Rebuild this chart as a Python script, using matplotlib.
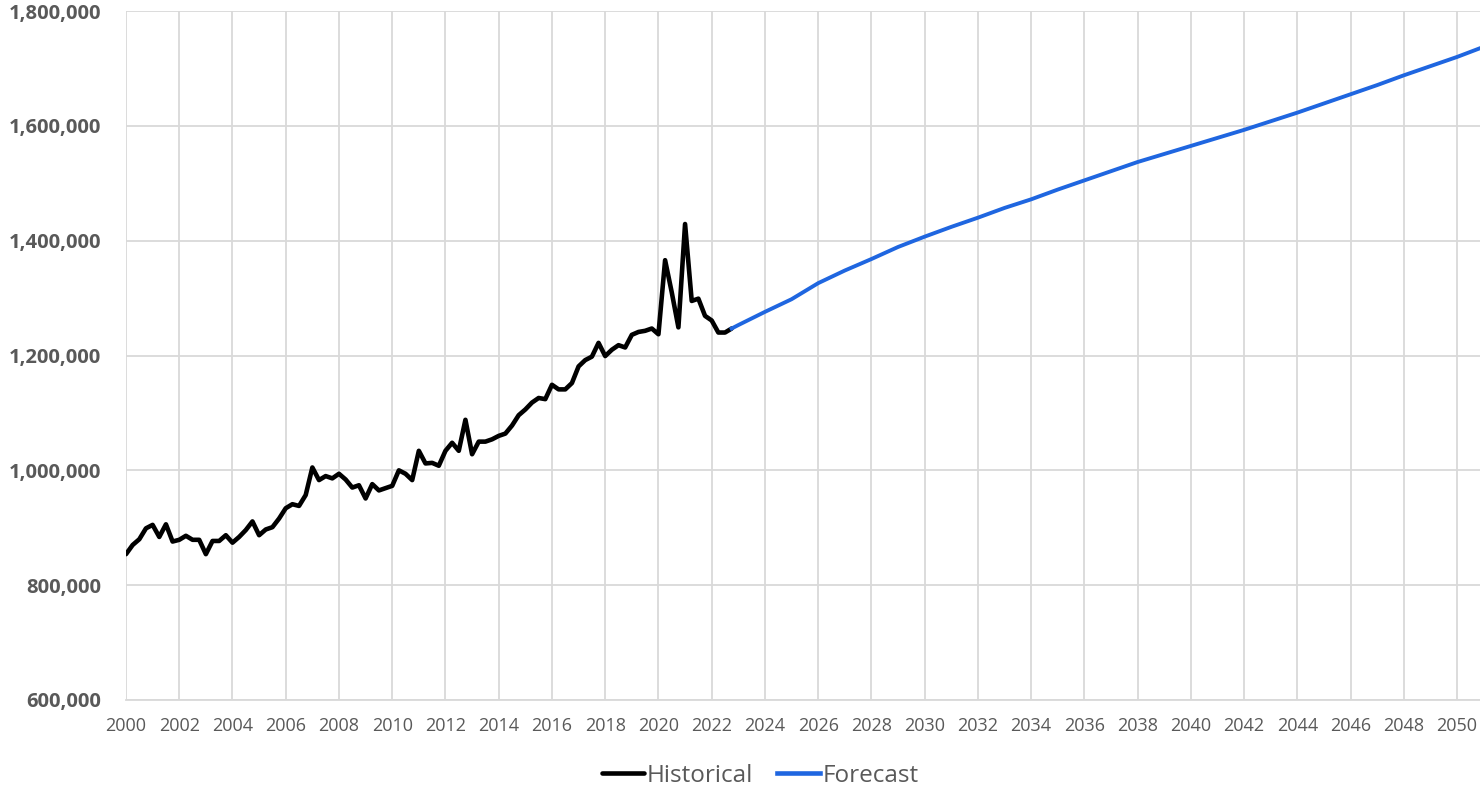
import matplotlib
matplotlib.use("Agg")
import matplotlib.pyplot as plt
import numpy as np
from matplotlib.ticker import FuncFormatter

# ---------------- data ----------------
# Historical: quarterly values, starting 2000 Q1 (in thousands)
hist_start_year = 2000
hist_values_k = [
    854, 870, 880, 899, 905, 884, 906, 876, 879, 886, 879, 879,
    854, 877, 877, 887, 874, 884, 896, 911, 887, 897, 901, 916,
    934, 941, 938, 957, 1005, 983, 990, 986, 994, 984, 970, 974,
    951, 976, 965, 969, 973, 1000, 994, 983, 1034, 1012, 1013, 1008,
    1034, 1048, 1034, 1088, 1028, 1050, 1050, 1054, 1060, 1064, 1078, 1096,
    1106, 1118, 1126, 1124, 1149, 1141, 1141, 1152, 1181, 1192, 1198, 1222,
    1199, 1210, 1218, 1214, 1236, 1241, 1243, 1247, 1237, 1366, 1310, 1249,
    1429, 1295, 1299, 1269, 1261, 1240, 1240, 1247,
]

# Forecast: (year, value in thousands)
forecast_years = [2022.75, 2023, 2024, 2025, 2026, 2027, 2028, 2029, 2030,
                  2031, 2032, 2033, 2034, 2035, 2036, 2037, 2038, 2039, 2040,
                  2041, 2042, 2043, 2044, 2045, 2046, 2047, 2048, 2049, 2050,
                  2050.85]
forecast_values_k = [1247, 1253, 1276, 1298, 1326, 1348, 1368, 1389, 1407,
                     1424, 1440, 1457, 1472, 1489, 1505, 1521, 1537, 1551, 1565,
                     1579, 1593, 1608, 1623, 1639, 1655, 1671, 1688, 1704, 1720,
                     1735]

series_labels = ["Historical", "Forecast"]
x_ticks = list(range(2000, 2051, 2))
y_ticks = [600000, 800000, 1000000, 1200000, 1400000, 1600000, 1800000]

# ---------------- plot ----------------
plt.rcParams['font.family'] = ['Open Sans', 'DejaVu Sans']

fig = plt.figure(figsize=(14.8, 7.9), dpi=100)
ax = fig.add_axes([126/1480, 1 - 700/790, 1 - 126/1480, (700 - 11)/790])

hist_x = hist_start_year + np.arange(len(hist_values_k)) * 0.25
hist_y = np.array(hist_values_k) * 1000
fc_x = np.array(forecast_years)
fc_y = np.array(forecast_values_k) * 1000

ax.plot(hist_x, hist_y, color='black', lw=3.3, label=series_labels[0],
        solid_joinstyle='round', solid_capstyle='round', zorder=3)
ax.plot(fc_x, fc_y, color='#1F66E0', lw=2.8, label=series_labels[1],
        solid_joinstyle='round', zorder=3)

ax.set_xlim(2000, 2050.86)
ax.set_ylim(600000, 1800000)
ax.set_xticks(x_ticks)
ax.set_yticks(y_ticks)
ax.yaxis.set_major_formatter(FuncFormatter(lambda v, p: f"{int(v):,}"))

ax.grid(True, color='#D9D9D9', lw=1.3, zorder=0)
ax.set_axisbelow(True)
for side in ['top', 'right', 'left']:
    ax.spines[side].set_visible(False)
ax.spines['bottom'].set_color('#D9D9D9')
ax.spines['bottom'].set_linewidth(1.3)

ax.tick_params(axis='both', length=0)
ax.tick_params(axis='y', pad=18, labelsize=14.5, labelcolor='#595959')
ax.tick_params(axis='x', pad=12, labelsize=13, labelcolor='#595959')
for lbl in ax.get_yticklabels():
    lbl.set_fontweight('bold')

leg = fig.legend(loc='center', bbox_to_anchor=(760/1480, 1 - 776/790), ncol=2,
                 frameon=False, fontsize=17.5, handlelength=1.75,
                 handletextpad=0.1, columnspacing=1.0)
for t in leg.get_texts():
    t.set_color('#595959')
for h in leg.get_lines():
    h.set_linewidth(3.3)

fig.savefig('out.png', dpi=100)
